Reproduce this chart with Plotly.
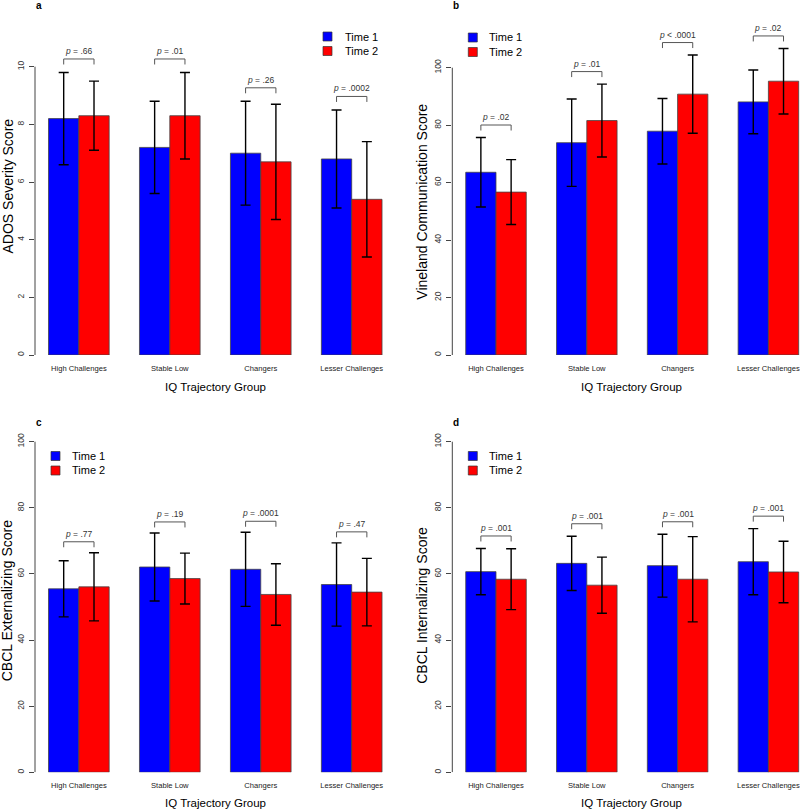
import plotly.graph_objects as go

# IQ trajectory groups (x categories)
groups = ["High Challenges", "Stable Low", "Changers", "Lesser Challenges"]

# a: ADOS severity
ados_t1 = [8.2, 7.2, 7.0, 6.8]
ados_t1_sd = [1.6, 1.6, 1.8, 1.7]
ados_t2 = [8.3, 8.3, 6.7, 5.4]
ados_t2_sd = [1.2, 1.5, 2.0, 2.0]
ados_p = ["= .66", "= .01", "= .26", "= .0002"]

# b: Vineland communication
vine_t1 = [63.6, 73.9, 77.9, 88.1]
vine_t1_sd = [12.1, 15.2, 11.4, 11.1]
vine_t2 = [56.7, 81.6, 90.8, 95.3]
vine_t2_sd = [11.3, 12.7, 13.6, 11.4]
vine_p = ["= .02", "= .01", "< .0001", "= .02"]

# c: CBCL externalizing
ext_t1 = [55.5, 62.1, 61.4, 56.8]
ext_t1_sd = [8.5, 10.3, 11.2, 12.6]
ext_t2 = [56.1, 58.6, 53.8, 54.5]
ext_t2_sd = [10.3, 7.7, 9.3, 10.2]
ext_p = ["= .77", "= .19", "= .0001", "= .47"]

# d: CBCL internalizing
int_t1 = [60.7, 63.2, 62.5, 63.7]
int_t1_sd = [7.0, 8.2, 9.5, 10.0]
int_t2 = [58.4, 56.6, 58.4, 60.6]
int_t2_sd = [9.2, 8.5, 12.9, 9.3]
int_p = ["= .001", "= .001", "= .001", "= .001"]

W, H = 800, 810
FONT = "Liberation Sans, Arial, sans-serif"


def px(x):
    return x / W


def py(y):
    return 1 - y / H


panels = [
    dict(label="a", t1=ados_t1, t1sd=ados_t1_sd, t2=ados_t2, t2sd=ados_t2_sd, p=ados_p,
         ytitle="ADOS Severity Score", top_tick=10, dtick=2,
         left=35, right=395, c0=78.85, step=90.95, zero=355, tick_px=66.7, region_top=20,
         gap=8, ytitle_pos=(7, 186.5), legend=(323, 36.5, 343), label_pos=(39, 5),
         xtitle_pos=(215, 386.7)),
    dict(label="b", t1=vine_t1, t1sd=vine_t1_sd, t2=vine_t2, t2sd=vine_t2_sd, p=vine_p,
         ytitle="Vineland Communication Score", top_tick=100, dtick=20,
         left=452.3, right=800, c0=496, step=90.8, zero=355, tick_px=67.7, region_top=20,
         gap=7, ytitle_pos=(422, 201.7), legend=(468.3, 37.5, 487.3), label_pos=(456, 5),
         xtitle_pos=(631.7, 386.7)),
    dict(label="c", t1=ext_t1, t1sd=ext_t1_sd, t2=ext_t2, t2sd=ext_t2_sd, p=ext_p,
         ytitle="CBCL Externalizing Score", top_tick=100, dtick=20,
         left=35, right=395, c0=78.85, step=90.95, zero=772.3, tick_px=441.7, region_top=430,
         gap=5.5, ytitle_pos=(6.5, 600.8), legend=(51, 456, 70), label_pos=(39, 422.5),
         xtitle_pos=(215, 803)),
    dict(label="d", t1=int_t1, t1sd=int_t1_sd, t2=int_t2, t2sd=int_t2_sd, p=int_p,
         ytitle="CBCL Internalizing Score", top_tick=100, dtick=20,
         left=452.3, right=800, c0=496, step=90.8, zero=772.3, tick_px=441.7, region_top=430,
         gap=7, ytitle_pos=(422, 605.8), legend=(468.3, 456, 487.3), label_pos=(456.3, 422),
         xtitle_pos=(631.7, 803)),
]

fig = go.Figure()
shapes = []
annotations = []
layout_axes = {}

for n, pnl in enumerate(panels, start=1):
    sfx = "" if n == 1 else str(n)
    xa, ya = "x" + sfx, "y" + sfx
    ppu = (pnl["zero"] - pnl["tick_px"]) / pnl["top_tick"]
    ymax = (pnl["zero"] - pnl["region_top"]) / ppu

    for vals, sds, col, nm in [(pnl["t1"], pnl["t1sd"], "#0000FF", "Time 1"),
                               (pnl["t2"], pnl["t2sd"], "#FF0000", "Time 2")]:
        fig.add_trace(go.Bar(
            x=groups, y=vals, name=nm, xaxis=xa, yaxis=ya, showlegend=False,
            marker=dict(color=col, line=dict(color="#444444", width=0.8)),
            error_y=dict(type="data", array=sds, color="black", thickness=1.4, width=5),
        ))

    layout_axes["xaxis" + sfx] = dict(
        domain=[px(pnl["left"]), px(pnl["right"])],
        range=[(pnl["left"] - pnl["c0"]) / pnl["step"], (pnl["right"] - pnl["c0"]) / pnl["step"]],
        anchor=ya, type="category", showline=False, showgrid=False, zeroline=False,
        ticks="", tickfont=dict(size=7.6, color="#222222"), ticklabelstandoff=7,
    )
    layout_axes["yaxis" + sfx] = dict(
        domain=[py(pnl["zero"]), py(pnl["region_top"])],
        range=[0, ymax], anchor=xa, showline=False, showgrid=False, zeroline=False,
        tickvals=list(range(0, pnl["top_tick"] + 1, pnl["dtick"])),
        ticks="outside", ticklen=5, tickcolor="#444444", tickwidth=1,
        tickangle=-90, tickfont=dict(size=8.5, color="#333333"),
        ticklabelstandoff=2,
    )

    # y axis line only spans the tick range
    shapes.append(dict(type="line", xref=xa + " domain", yref=ya, x0=0, x1=0,
                       y0=0, y1=pnl["top_tick"], line=dict(color="#444444", width=1)))

    # significance brackets
    for i in range(len(groups)):
        top_err = max(pnl["t1"][i] + pnl["t1sd"][i], pnl["t2"][i] + pnl["t2sd"][i])
        yb = top_err + pnl["gap"] / ppu
        yt = yb + 5.5 / ppu
        xl, xr = i - 1 / 6, i + 1 / 6
        for (x0, y0, x1, y1) in [(xl, yb, xl, yt), (xl, yt, xr, yt), (xr, yt, xr, yb)]:
            shapes.append(dict(type="line", xref=xa, yref=ya, x0=x0, y0=y0, x1=x1, y1=y1,
                               line=dict(color="#555555", width=1)))
        annotations.append(dict(xref=xa, yref=ya, x=i, y=yt, yanchor="bottom", yshift=1,
                                showarrow=False, text="<i>p</i> " + pnl["p"][i],
                                font=dict(size=8.5, color="#333333")))

    # legend
    lx, ly, tx = pnl["legend"]
    for k, (col, nm) in enumerate([("#0000FF", "Time 1"), ("#FF0000", "Time 2")]):
        cy = ly + k * 14.5
        shapes.append(dict(type="rect", xref="paper", yref="paper",
                           x0=px(lx), x1=px(lx + 9), y0=py(cy + 4.5), y1=py(cy - 4.5),
                           fillcolor=col, line=dict(color="#333333", width=0.7)))
        annotations.append(dict(xref="paper", yref="paper", x=px(tx), y=py(cy),
                                xanchor="left", yanchor="middle", showarrow=False,
                                text=nm, font=dict(size=11, color="black")))

    # titles
    annotations.append(dict(xref="paper", yref="paper", x=px(pnl["xtitle_pos"][0]),
                            y=py(pnl["xtitle_pos"][1]), xanchor="center", yanchor="middle",
                            showarrow=False, text="IQ Trajectory Group",
                            font=dict(size=11.5, color="black")))
    annotations.append(dict(xref="paper", yref="paper", x=px(pnl["ytitle_pos"][0]),
                            y=py(pnl["ytitle_pos"][1]), xanchor="center", yanchor="middle",
                            textangle=-90, showarrow=False, text=pnl["ytitle"],
                            font=dict(size=14, color="black")))
    annotations.append(dict(xref="paper", yref="paper", x=px(pnl["label_pos"][0]),
                            y=py(pnl["label_pos"][1]), xanchor="center", yanchor="middle",
                            showarrow=False, text="<b>" + pnl["label"] + "</b>",
                            font=dict(size=10, color="black")))

fig.update_layout(
    width=W, height=H,
    margin=dict(l=0, r=0, t=0, b=0),
    paper_bgcolor="white", plot_bgcolor="white",
    font=dict(family=FONT),
    barmode="group", bargap=1 / 3, bargroupgap=0,
    shapes=shapes, annotations=annotations,
    showlegend=False,
    **layout_axes,
)

# the page's default 8px body margin would push the 800x810 figure off-window
fig.write_html("out.html", config={"displayModeBar": False},
               post_script="document.body.style.margin='0';")
